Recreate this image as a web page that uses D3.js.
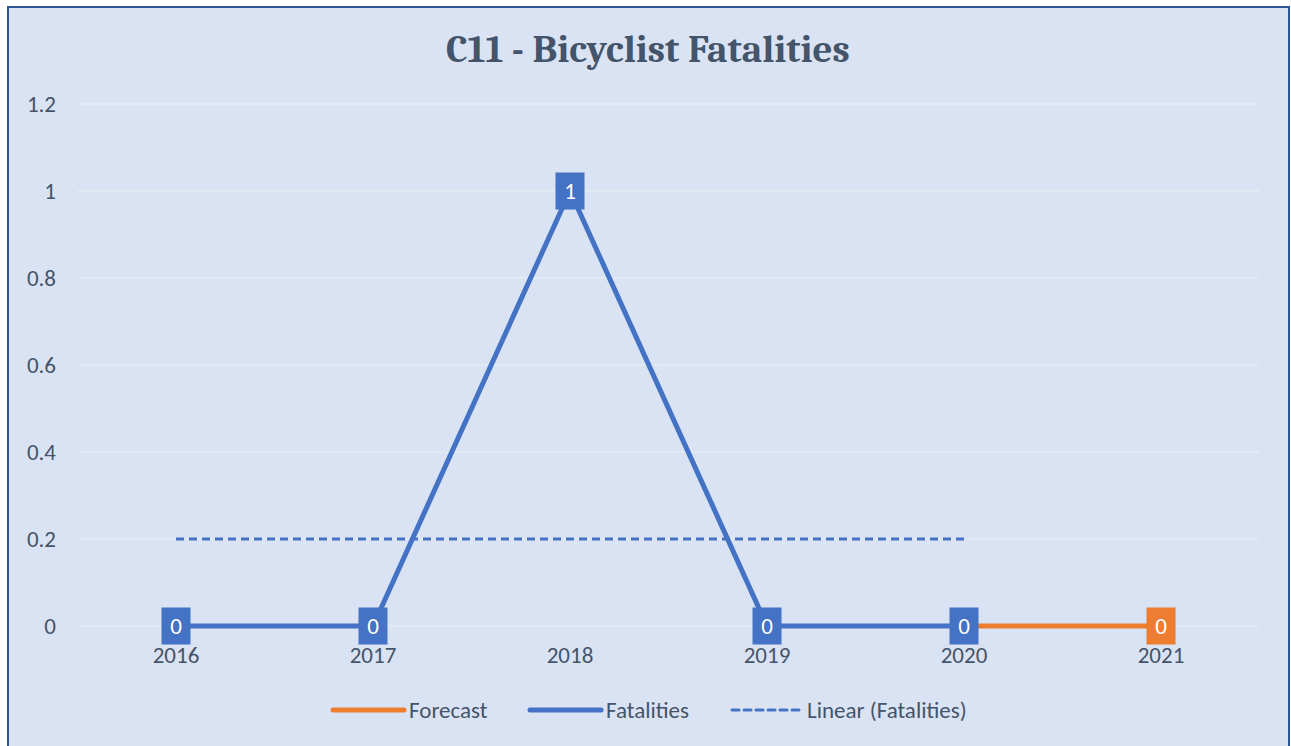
<!DOCTYPE html>
<html>
<head>
<meta charset="utf-8">
<script src="https://cdn.jsdelivr.net/npm/d3@7"></script>
<style>
  body { margin: 0; background: #fff; }
</style>
</head>
<body>
<script>
const years = ['2016', '2017', '2018', '2019', '2020', '2021']
const fatalityYears = ['2016', '2017', '2018', '2019', '2020']
const fatalities = [0, 0, 1, 0, 0]
const forecastYears = ['2020', '2021']
const forecast = [0, 0]
const yTicks = [0, 0.2, 0.4, 0.6, 0.8, 1, 1.2]

const W = 1291, H = 746
const blue = '#4472c4', orange = '#ed7d31', txt = '#44546a'
const font = 'Carlito, Lato, sans-serif'

const svg = d3.create('svg').attr('width', W).attr('height', H)
svg.append('rect').attr('x', 8).attr('y', 7).attr('width', W - 10).attr('height', H - 6)
  .attr('fill', '#dae3f3').attr('stroke', '#2f5597').attr('stroke-width', 2)

const x = d3.scaleBand().domain(years).range([77.5, 1259.5])
const xc = d => x(d) + x.bandwidth() / 2
const y = d3.scaleLinear().domain([0, 1.2]).range([626, 104])

svg.append('text').attr('x', 648).attr('y', 62).attr('text-anchor', 'middle')
  .attr('font-family', 'Cambria, Caladea, serif').attr('font-weight', 'bold')
  .attr('font-size', 39).attr('fill', txt).text('C11 - Bicyclist Fatalities')

// gridlines
svg.append('g').selectAll('line').data(yTicks).join('line')
  .attr('x1', 77.5).attr('x2', 1259.5).attr('y1', d => y(d)).attr('y2', d => y(d))
  .attr('stroke', '#e6ebf3').attr('stroke-width', 1.5)

// y axis labels
const yAxis = svg.append('g').attr('transform', 'translate(56,0)')
  .call(d3.axisLeft(y).tickValues(yTicks).tickSize(0).tickPadding(0).tickFormat(d3.format('')))
yAxis.select('.domain').remove()
yAxis.selectAll('text').attr('font-family', font).attr('font-size', 23).attr('fill', txt)

// x axis labels
const xAxis = svg.append('g').attr('transform', 'translate(0,645)')
  .call(d3.axisBottom(x).tickSize(0).tickPadding(2))
xAxis.select('.domain').remove()
xAxis.selectAll('text').attr('font-family', font).attr('font-size', 23).attr('fill', txt)

// linear trend (least squares)
const n = fatalities.length
const xi = d3.range(1, n + 1)
const mx = d3.mean(xi), my = d3.mean(fatalities)
const slope = d3.sum(xi, (v, i) => (v - mx) * (fatalities[i] - my)) / d3.sum(xi, v => (v - mx) ** 2)
const icpt = my - slope * mx
svg.append('path')
  .attr('d', d3.line()([[xc(fatalityYears[0]), y(icpt + slope)], [xc(fatalityYears[n - 1]), y(icpt + slope * n)]]))
  .attr('stroke', blue).attr('stroke-width', 3).attr('stroke-dasharray', '8,5').attr('fill', 'none')

const line = d3.line().x(d => xc(d[0])).y(d => y(d[1]))
svg.append('path').attr('d', line(forecastYears.map((d, i) => [d, forecast[i]])))
  .attr('stroke', orange).attr('stroke-width', 5).attr('fill', 'none')
svg.append('path').attr('d', line(fatalityYears.map((d, i) => [d, fatalities[i]])))
  .attr('stroke', blue).attr('stroke-width', 5).attr('fill', 'none').attr('stroke-linejoin', 'round')

function labels(ys, vs, color) {
  const g = svg.append('g').selectAll('g').data(ys).join('g')
    .attr('transform', (d, i) => `translate(${xc(d)},${y(vs[i])})`)
  g.append('rect').attr('x', -14.5).attr('y', -18.5).attr('width', 29).attr('height', 37).attr('fill', color)
  g.append('text').attr('y', 8).attr('text-anchor', 'middle').attr('fill', '#fff')
    .attr('font-family', font).attr('font-size', 23)
    .text((d, i) => vs[i])
}
labels(fatalityYears, fatalities, blue)
labels(['2021'], [forecast[1]], orange)

// legend
const leg = [
  { name: 'Forecast', color: orange, x: 333, w: 71, dash: null, sw: 5 },
  { name: 'Fatalities', color: blue, x: 530, w: 71, dash: null, sw: 5 },
  { name: 'Linear (Fatalities)', color: blue, x: 732, w: 70, dash: '7,5', sw: 3 }
]
const lg = svg.append('g').selectAll('g').data(leg).join('g')
lg.append('line').attr('x1', d => d.x).attr('x2', d => d.x + d.w).attr('y1', 710).attr('y2', 710)
  .attr('stroke', d => d.color).attr('stroke-width', d => d.sw).attr('stroke-linecap', 'round')
  .attr('stroke-dasharray', d => d.dash)
lg.append('text').attr('x', d => d.x + d.w + 5).attr('y', 718)
  .attr('font-family', font).attr('font-size', 23).attr('fill', txt)
  .text(d => d.name)

document.body.appendChild(svg.node())
</script>
</body>
</html>
